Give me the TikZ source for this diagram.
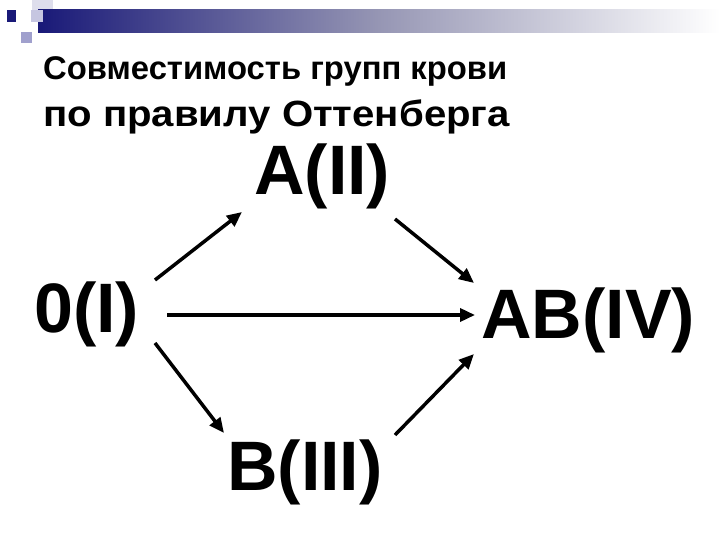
\documentclass[tikz,border=0pt]{standalone}
\usepackage{fontspec}
\setmainfont{Liberation Sans}
\usetikzlibrary{arrows.meta}
\definecolor{navy}{RGB}{25,25,120}
\definecolor{lav}{RGB}{160,160,205}
\definecolor{pale}{RGB}{222,222,236}
\tikzset{
  grp/.style={inner sep=0pt, anchor=base west, font=\fontsize{70}{70}\selectfont\bfseries},
  ttl/.style={inner sep=0pt, anchor=base west},
  arr/.style={line width=3.5pt, -{Triangle[length=15pt,width=13pt]}},
}
\begin{document}
\begin{tikzpicture}[x=1pt,y=-1pt]
\useasboundingbox (0,0) rectangle (720,540);
\fill[white] (0,0) rectangle (720,540);
% decoration
\fill[pale] (32,0) rectangle (53,22);
\shade[left color=navy, right color=white, middle color={rgb,255:red,150;green,150;blue,180}] (38,10) rectangle (720,33);
\fill[lav!60] (31,10) rectangle (43,22);
\fill[navy] (7,10) rectangle (16,22);
\fill[lav] (21,32) rectangle (32,43);
% title
\node[ttl, font=\fontsize{32.8}{32.8}\selectfont\bfseries] (t1) at (43,80) {Совместимость групп крови};
\node[ttl, font=\fontsize{36.5}{36.5}\selectfont\bfseries] (t2) at (43,127) {\scalebox{1.1}[1]{по правилу Оттенберга}};
% groups
\node[grp] (a) at (254,195) {A(II)};
\node[grp] (o) at (34,332) {0(I)};
\node[grp] (ab) at (481,338) {AB(IV)};
\node[grp] (b) at (227,490) {B(III)};
% connector ends
\coordinate (oa1) at (155,280); \coordinate (oa2) at (242,212);
\coordinate (aab1) at (395,219); \coordinate (aab2) at (474,283);
\coordinate (oab1) at (167,315); \coordinate (oab2) at (475,315);
\coordinate (ob1) at (155,343); \coordinate (ob2) at (224,433);
\coordinate (bab1) at (395,435); \coordinate (bab2) at (474,354);
\draw[arr] (oa1) -- (oa2);
\draw[arr] (aab1) -- (aab2);
\draw[arr] (oab1) -- (oab2);
\draw[arr] (ob1) -- (ob2);
\draw[arr] (bab1) -- (bab2);
\end{tikzpicture}
\end{document}
